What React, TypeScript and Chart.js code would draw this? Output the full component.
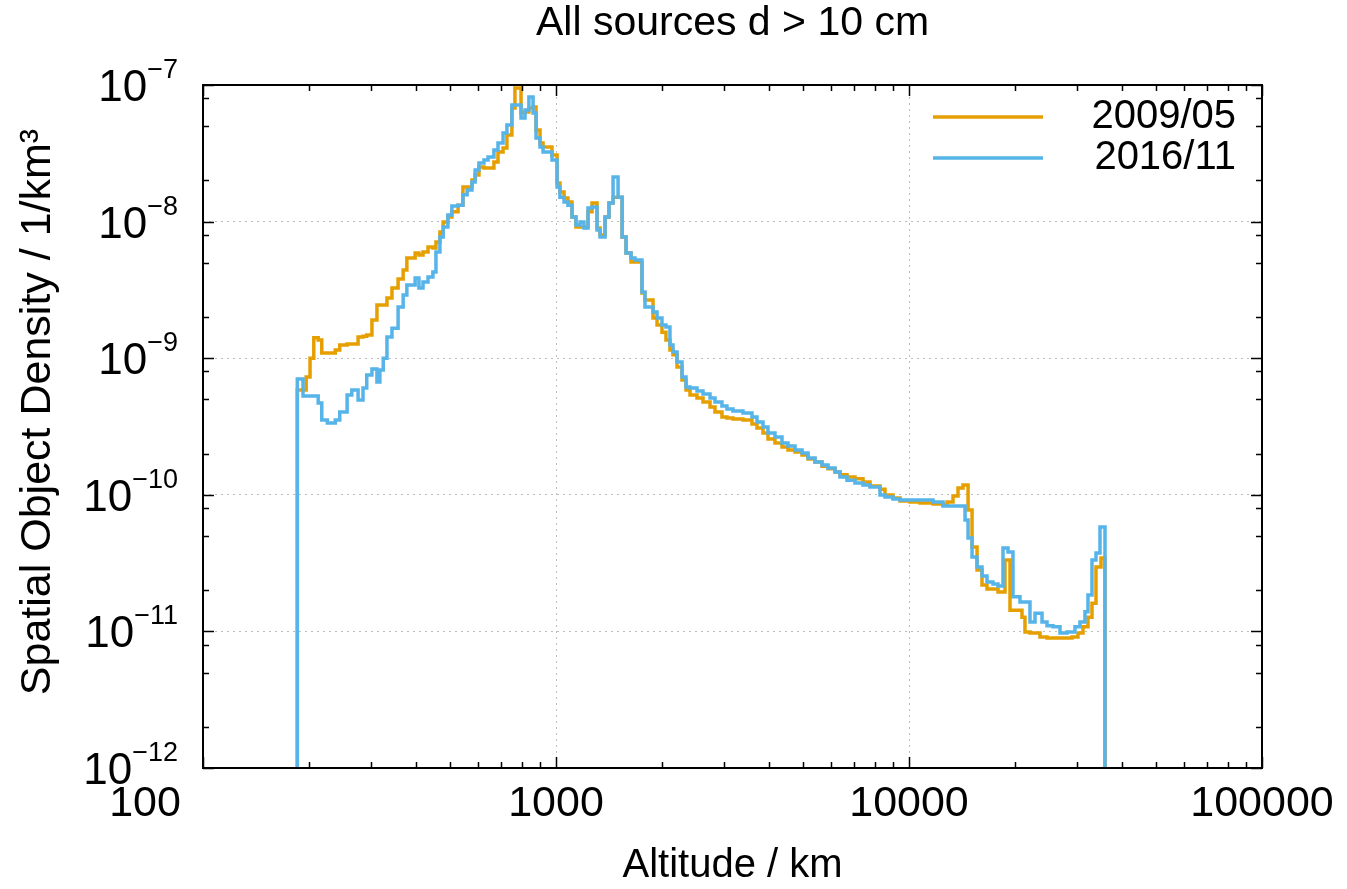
import React, { useEffect, useRef } from 'react';
import { Chart, registerables } from 'chart.js';

Chart.register(...registerables);

// Bin edges (km): each value below holds from altitudeKm[i] to altitudeKm[i + 1]
const altitudeKm = [
  185, 192, 196, 201, 206, 212, 217, 225, 237, 244,
  256, 264, 275, 284, 291, 301, 311, 317, 324, 332,
  343, 357, 369, 378, 399, 409, 420, 434, 448, 457,
  469, 479, 494, 507, 528, 545, 560, 578, 590, 605,
  625, 642, 667, 685, 708, 726, 750, 765, 796, 817,
  838, 861, 878, 901, 919, 974, 1007, 1026, 1054, 1081,
  1110, 1139, 1170, 1200, 1232, 1265, 1307, 1333, 1377, 1413,
  1451, 1499, 1539, 1579, 1631, 1674, 1752, 1787, 1883, 1933,
  1996, 2049, 2103, 2145, 2202, 2275, 2335, 2397, 2509, 2609,
  2731, 2821, 2952, 3050, 3172, 3386, 3591, 3710, 3858, 3986,
  4172, 4367, 4542, 4754, 4976, 5175, 5417, 5669, 5895, 6171,
  6376, 6674, 7031, 7408, 7754, 8277, 8550, 9009, 9430, 10065,
  10744, 11695, 12483, 12814, 13325, 13766, 14227, 14414, 14700, 15087,
  15587, 16100, 16633, 17297, 17870, 18462, 18706, 19074, 19325, 19704,
  20624, 20896, 21309, 22015, 22751, 23505, 23814, 24602, 25583, 26778,
  28029, 28955, 29524, 30110, 30505, 31109, 31517, 32139, 32989, 33862,
  34757, 34984, 35910,
];

// Spatial object density (1/km^3), 2009/05
const density2009 = [
  5.85e-10, 5.85e-10, 7.29e-10, 1.00e-9, 1.41e-9, 1.36e-9, 1.09e-9, 1.09e-9, 1.15e-9, 1.25e-9,
  1.27e-9, 1.27e-9, 1.43e-9, 1.45e-9, 1.48e-9, 1.90e-9, 2.45e-9, 2.45e-9, 2.45e-9, 2.76e-9,
  3.27e-9, 3.80e-9, 4.42e-9, 5.41e-9, 5.89e-9, 5.69e-9, 5.99e-9, 6.52e-9, 6.41e-9, 7.09e-9,
  8.39e-9, 9.93e-9, 1.08e-8, 1.18e-8, 1.32e-8, 1.79e-8, 1.79e-8, 2.02e-8, 2.19e-8, 2.51e-8,
  2.47e-8, 2.47e-8, 2.73e-8, 3.23e-8, 3.46e-8, 4.31e-8, 6.79e-8, 9.51e-8, 6.24e-8, 6.34e-8,
  6.79e-8, 6.90e-8, 4.68e-8, 3.76e-8, 3.52e-8, 3.07e-8, 1.92e-8, 1.65e-8, 1.49e-8, 1.39e-8,
  1.08e-8, 9.13e-9, 9.13e-9, 9.13e-9, 1.18e-8, 1.37e-8, 8.98e-9, 7.98e-9, 1.08e-8, 1.37e-8,
  1.51e-8, 1.51e-8, 7.72e-9, 5.89e-9, 5.06e-9, 5.06e-9, 3.00e-9, 2.67e-9, 1.97e-9, 1.75e-9,
  1.55e-9, 1.36e-9, 1.15e-9, 1.06e-9, 8.62e-10, 6.92e-10, 5.85e-10, 5.38e-10, 5.11e-10, 4.78e-10,
  4.39e-10, 4.04e-10, 3.71e-10, 3.65e-10, 3.59e-10, 3.53e-10, 3.30e-10, 3.08e-10, 2.84e-10, 2.56e-10,
  2.39e-10, 2.24e-10, 2.13e-10, 2.06e-10, 1.96e-10, 1.83e-10, 1.74e-10, 1.62e-10, 1.55e-10, 1.47e-10,
  1.40e-10, 1.35e-10, 1.31e-10, 1.24e-10, 1.16e-10, 1.10e-10, 9.97e-11, 9.48e-11, 9.01e-11, 8.86e-11,
  8.71e-11, 8.57e-11, 8.42e-11, 8.86e-11, 9.80e-11, 1.12e-10, 1.18e-10, 1.18e-10, 7.74e-11, 4.15e-11,
  2.82e-11, 2.19e-11, 2.04e-11, 2.04e-11, 1.94e-11, 1.94e-11, 3.33e-11, 3.33e-11, 1.43e-11, 1.43e-11,
  1.43e-11, 1.27e-11, 9.90e-12, 9.73e-12, 9.73e-12, 9.10e-12, 9.10e-12, 8.95e-12, 8.95e-12, 8.95e-12,
  8.95e-12, 9.10e-12, 9.10e-12, 9.73e-12, 9.73e-12, 1.08e-11, 1.08e-11, 1.27e-11, 1.61e-11, 2.96e-11,
  2.96e-11, 3.45e-11,
];

// Spatial object density (1/km^3), 2016/11
const density2016 = [
  7.04e-10, 5.29e-10, 5.29e-10, 5.29e-10, 5.29e-10, 4.70e-10, 3.53e-10, 3.35e-10, 3.53e-10, 4.04e-10,
  5.38e-10, 5.85e-10, 4.94e-10, 6.05e-10, 7.53e-10, 8.34e-10, 6.70e-10, 8.19e-10, 1.00e-9, 1.43e-9,
  1.66e-9, 2.37e-9, 2.90e-9, 3.44e-9, 3.87e-9, 3.27e-9, 3.61e-9, 3.93e-9, 4.28e-9, 5.99e-9,
  7.72e-9, 9.13e-9, 1.12e-8, 1.30e-8, 1.32e-8, 1.57e-8, 1.70e-8, 1.95e-8, 2.39e-8, 2.69e-8,
  2.82e-8, 2.97e-8, 3.34e-8, 3.76e-8, 4.45e-8, 5.10e-8, 7.14e-8, 7.14e-8, 5.73e-8, 6.56e-8,
  8.17e-8, 6.24e-8, 4.09e-8, 3.52e-8, 3.23e-8, 2.82e-8, 1.79e-8, 1.51e-8, 1.39e-8, 1.32e-8,
  1.08e-8, 9.44e-9, 9.93e-9, 8.98e-9, 1.26e-8, 1.28e-8, 8.68e-9, 7.72e-9, 1.08e-8, 1.37e-8,
  2.12e-8, 1.51e-8, 7.72e-9, 5.89e-9, 5.41e-9, 5.24e-9, 3.05e-9, 2.37e-9, 2.18e-9, 1.97e-9,
  1.75e-9, 1.69e-9, 1.25e-9, 1.11e-9, 9.38e-10, 7.29e-10, 6.15e-10, 6.05e-10, 5.75e-10, 5.47e-10,
  5.11e-10, 4.78e-10, 4.47e-10, 4.25e-10, 4.11e-10, 3.97e-10, 3.71e-10, 3.41e-10, 3.14e-10, 2.84e-10,
  2.65e-10, 2.39e-10, 2.28e-10, 2.13e-10, 2.02e-10, 1.86e-10, 1.74e-10, 1.65e-10, 1.57e-10, 1.47e-10,
  1.35e-10, 1.28e-10, 1.22e-10, 1.18e-10, 1.14e-10, 9.97e-11, 9.63e-11, 9.32e-11, 9.16e-11, 9.16e-11,
  9.16e-11, 8.86e-11, 8.28e-11, 8.28e-11, 8.28e-11, 8.28e-11, 8.28e-11, 6.54e-11, 4.83e-11, 3.51e-11,
  2.96e-11, 2.54e-11, 2.30e-11, 2.22e-11, 2.15e-11, 4.08e-11, 4.08e-11, 3.81e-11, 3.81e-11, 1.79e-11,
  1.64e-11, 1.64e-11, 1.64e-11, 1.17e-11, 1.36e-11, 1.36e-11, 1.17e-11, 1.10e-11, 1.08e-11, 9.73e-12,
  9.90e-12, 9.90e-12, 1.08e-11, 1.08e-11, 1.17e-11, 1.17e-11, 1.39e-11, 1.85e-11, 3.33e-11, 3.75e-11,
  5.81e-11, 5.81e-11,
];

const xDecades = [100, 1000, 10000, 100000];
const yDecades = [1e-12, 1e-11, 1e-10, 1e-9, 1e-8, 1e-7];
const xMinorMultipliers = [2, 3, 4, 5, 6, 7, 8, 9];
const yMinorMultipliers = [2, 5, 8];
const seriesLabels = ['2009/05', '2016/11'];
const seriesColors = ['#E69F00', '#56B4E9'];
const titleText = 'All sources d > 10 cm';
const xTitleText = 'Altitude / km';
const yTitleText = 'Spatial Object Density / 1/km³';

const FLOOR = 1e-14;
const FONT = '"Liberation Sans", Arial, Helvetica, sans-serif';

function stepPoints(values: number[]) {
  const pts: { x: number; y: number }[] = [{ x: altitudeKm[0], y: FLOOR }];
  values.forEach((v, i) => pts.push({ x: altitudeKm[i], y: v }));
  const end = altitudeKm[values.length];
  pts.push({ x: end, y: values[values.length - 1] });
  pts.push({ x: end, y: FLOOR });
  return pts;
}

function minorValues(decades: number[], mults: number[]) {
  const out: number[] = [];
  for (let i = 0; i < decades.length - 1; i++) for (const m of mults) out.push(decades[i] * m);
  return out;
}

const overlayPlugin = {
  id: 'gnuplotOverlay',
  afterDraw(chart: any) {
    const { ctx, chartArea: a, scales } = chart;
    const xs = scales.x;
    const ys = scales.y;
    ctx.save();

    // tick marks on all four sides, pointing inward
    ctx.strokeStyle = '#000';
    ctx.lineWidth = 1.5;
    const drawX = (v: number, len: number) => {
      const px = Math.round(xs.getPixelForValue(v)) + 0.5;
      ctx.beginPath();
      ctx.moveTo(px, a.bottom);
      ctx.lineTo(px, a.bottom - len);
      ctx.moveTo(px, a.top);
      ctx.lineTo(px, a.top + len);
      ctx.stroke();
    };
    const drawY = (v: number, len: number) => {
      const py = Math.round(ys.getPixelForValue(v)) + 0.5;
      ctx.beginPath();
      ctx.moveTo(a.left, py);
      ctx.lineTo(a.left + len, py);
      ctx.moveTo(a.right, py);
      ctx.lineTo(a.right - len, py);
      ctx.stroke();
    };
    xDecades.forEach((v) => drawX(v, 11));
    minorValues(xDecades, xMinorMultipliers).forEach((v) => drawX(v, 6));
    yDecades.forEach((v) => drawY(v, 11));
    minorValues(yDecades, yMinorMultipliers).forEach((v) => drawY(v, 6));

    // frame
    ctx.lineWidth = 2;
    ctx.strokeRect(a.left, a.top, a.right - a.left, a.bottom - a.top);

    ctx.fillStyle = '#000';
    // x tick labels
    ctx.font = `43px ${FONT}`;
    ctx.textAlign = 'center';
    ctx.textBaseline = 'middle';
    xDecades.forEach((v, i) => {
      const px = xs.getPixelForValue(v);
      ctx.fillText(String(v), i === 0 ? px - 58 : px, a.bottom + 36);
    });

    // y tick labels: 10 with superscript exponent
    const right = a.left - 25;
    yDecades.forEach((v) => {
      const py = ys.getPixelForValue(v);
      const exp = Math.round(Math.log10(v));
      const expStr = (exp < 0 ? '\u2212' : '') + String(Math.abs(exp));
      ctx.textBaseline = 'alphabetic';
      ctx.textAlign = 'left';
      ctx.font = `27px ${FONT}`;
      const ew = ctx.measureText(expStr).width;
      ctx.fillText(expStr, right - ew, py - 7);
      ctx.font = `44px ${FONT}`;
      ctx.textAlign = 'right';
      ctx.fillText('10', right - ew, py + 16);
    });

    // titles
    ctx.textAlign = 'center';
    ctx.textBaseline = 'middle';
    ctx.font = `41px ${FONT}`;
    ctx.fillText(titleText, (a.left + a.right) / 2, 24);
    ctx.font = `40px ${FONT}`;
    ctx.fillText(xTitleText, (a.left + a.right) / 2, 866);
    ctx.save();
    ctx.translate(38, 412);
    ctx.rotate(-Math.PI / 2);
    ctx.font = `43px ${FONT}`;
    ctx.fillText(yTitleText, 0, 0);
    ctx.restore();

    // legend
    ctx.lineWidth = 3.5;
    ctx.font = `40px ${FONT}`;
    seriesLabels.forEach((label, i) => {
      const ly = a.top + 32 + i * 41;
      ctx.strokeStyle = seriesColors[i];
      ctx.beginPath();
      ctx.moveTo(a.right - 329, ly);
      ctx.lineTo(a.right - 219, ly);
      ctx.stroke();
      ctx.textAlign = 'right';
      ctx.textBaseline = 'middle';
      ctx.fillStyle = '#000';
      ctx.fillText(label, a.right - 26, ly);
    });

    ctx.restore();
  },
};

export default function App() {
  const canvasRef = useRef<HTMLCanvasElement | null>(null);

  useEffect(() => {
    if (!canvasRef.current) return;
    const gridColor = (ctx: any, decades: number[]) => {
      const v = ctx.tick ? ctx.tick.value : NaN;
      const inner = decades.slice(1, -1).some((d) => Math.abs(Math.log10(v) - Math.log10(d)) < 1e-6);
      return inner ? '#bdbdbd' : 'rgba(0,0,0,0)';
    };
    const chart = new Chart(canvasRef.current, {
      type: 'line',
      data: {
        datasets: [
          {
            label: seriesLabels[0],
            data: stepPoints(density2009),
            borderColor: seriesColors[0],
            borderWidth: 3.5,
            pointRadius: 0,
            stepped: true,
            fill: false,
            order: 2,
          },
          {
            label: seriesLabels[1],
            data: stepPoints(density2016),
            borderColor: seriesColors[1],
            borderWidth: 3.5,
            pointRadius: 0,
            stepped: true,
            fill: false,
            order: 1,
          },
        ],
      },
      options: {
        animation: false,
        responsive: false,
        devicePixelRatio: 1,
        layout: { padding: { left: 203, top: 85, right: 85, bottom: 121 } },
        plugins: { legend: { display: false }, tooltip: { enabled: false }, title: { display: false } },
        scales: {
          x: {
            type: 'logarithmic',
            min: 100,
            max: 100000,
            afterBuildTicks: (scale: any) => {
              scale.ticks = xDecades.map((v) => ({ value: v, major: true }));
            },
            ticks: { display: false },
            grid: { drawTicks: false, color: (c: any) => gridColor(c, xDecades), lineWidth: 1 },
            border: { display: false, dash: [2, 4] },
          },
          y: {
            type: 'logarithmic',
            min: 1e-12,
            max: 1e-7,
            afterBuildTicks: (scale: any) => {
              scale.ticks = yDecades.map((v) => ({ value: v, major: true }));
            },
            ticks: { display: false },
            grid: { drawTicks: false, color: (c: any) => gridColor(c, yDecades), lineWidth: 1 },
            border: { display: false, dash: [2, 4] },
          },
        },
      },
      plugins: [overlayPlugin],
    } as any);
    return () => chart.destroy();
  }, []);

  return (
    <div style={{ position: 'fixed', left: 0, top: 0, width: 1347, height: 889, background: '#fff' }}>
      <canvas ref={canvasRef} width={1347} height={889} style={{ display: 'block' }} />
    </div>
  );
}
